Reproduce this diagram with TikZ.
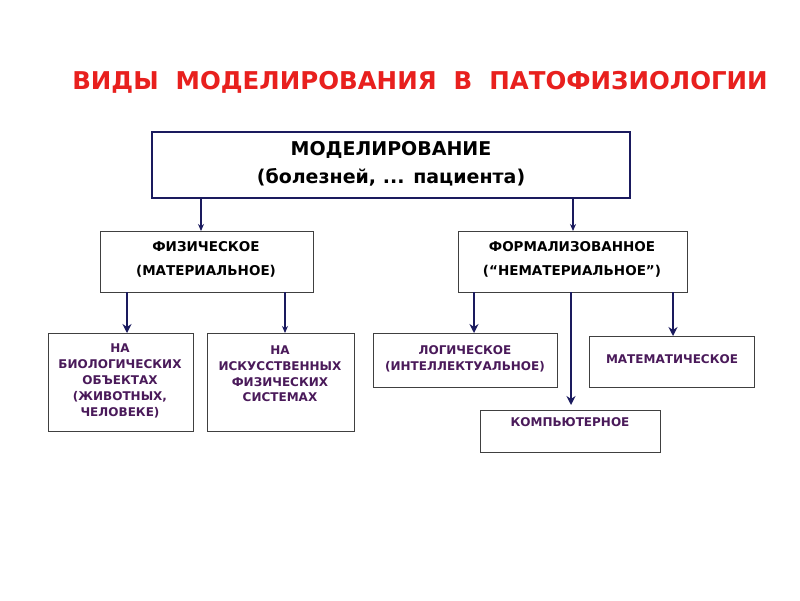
\documentclass[tikz,border=0pt]{standalone}
\usepackage{fontspec}
\setmainfont{DejaVu Sans}
\usetikzlibrary{arrows.meta}
\definecolor{navy}{HTML}{1A1A5E}
\definecolor{leaf}{HTML}{4A1A5A}
\definecolor{ttl}{HTML}{E8201E}
\tikzset{
 x=1pt,y=-1pt,
 box/.style={draw=black!75,line width=1pt},
 lbl/.style={font=\bfseries\fontsize{13.5}{24}\selectfont,align=center,text=black},
 leaftxt/.style={font=\bfseries\fontsize{12}{15.8}\selectfont,align=center,text=leaf},
 arr/.style={draw=navy,line width=1.2pt,-{Stealth[length=7pt,width=6pt]}},
 thick arr/.style={draw=navy,line width=2.8pt,-{Stealth[length=9pt,width=9pt]}}
}
\begin{document}
\begin{tikzpicture}
\useasboundingbox[fill=white] (0,0) rectangle (800,600);
\node[font=\bfseries\fontsize{24.5}{28}\selectfont,text=ttl] (title) at (420,82) {ВИДЫ \ МОДЕЛИРОВАНИЯ \ В \ ПАТОФИЗИОЛОГИИ};
\draw[draw=navy,line width=2.5pt] (152,132) rectangle (630,198);
\node[font=\bfseries\fontsize{19}{28}\selectfont,align=center] (toptxt) at (391,164) {МОДЕЛИРОВАНИЕ\\(болезней, ... пациента)};
\draw[box] (100,231) rectangle (313,292);
\node[lbl] (phys) at (206,259) {ФИЗИЧЕСКОЕ\\(МАТЕРИАЛЬНОЕ)};
\draw[box] (458,231) rectangle (687,292);
\node[lbl] (form) at (572,259) {ФОРМАЛИЗОВАННОЕ\\(“НЕМАТЕРИАЛЬНОЕ”)};
\draw[box] (48,333) rectangle (193,431);
\node[leaftxt] (bio) at (120,381) {НА\\БИОЛОГИЧЕСКИХ\\ОБЪЕКТАХ\\(ЖИВОТНЫХ,\\ЧЕЛОВЕКЕ)};
\draw[box] (207,333) rectangle (354,431);
\node[leaftxt] (art) at (280,374) {НА\\ИСКУССТВЕННЫХ\\ФИЗИЧЕСКИХ\\СИСТЕМАХ};
\draw[box] (373,333) rectangle (557,387);
\node[leaftxt] (log) at (465,359) {ЛОГИЧЕСКОЕ\\(ИНТЕЛЛЕКТУАЛЬНОЕ)};
\draw[box] (589,336) rectangle (754,387);
\node[leaftxt] (math) at (672,359) {МАТЕМАТИЧЕСКОЕ};
\draw[box] (480,410) rectangle (660,452);
\node[leaftxt] (comp) at (570,422) {КОМПЬЮТЕРНОЕ};
\coordinate (a1s) at (201,198); \coordinate (a1e) at (201,231);
\coordinate (a2s) at (573,198); \coordinate (a2e) at (573,231);
\coordinate (b1s) at (127,292); \coordinate (b1e) at (127,333);
\coordinate (b2s) at (285,292); \coordinate (b2e) at (285,333);
\coordinate (c1s) at (474,292); \coordinate (c1e) at (474,333);
\coordinate (c2s) at (673,292); \coordinate (c2e) at (673,336);
\coordinate (c3s) at (571,292); \coordinate (c3e) at (571,405);
\draw[arr] (a1s) -- (a1e);
\draw[arr] (a2s) -- (a2e);
\draw[thick arr] (b1s) -- (b1e);
\draw[arr] (b2s) -- (b2e);
\draw[thick arr] (c1s) -- (c1e);
\draw[thick arr] (c2s) -- (c2e);
\draw[thick arr] (c3s) -- (c3e);
\end{tikzpicture}
\end{document}
